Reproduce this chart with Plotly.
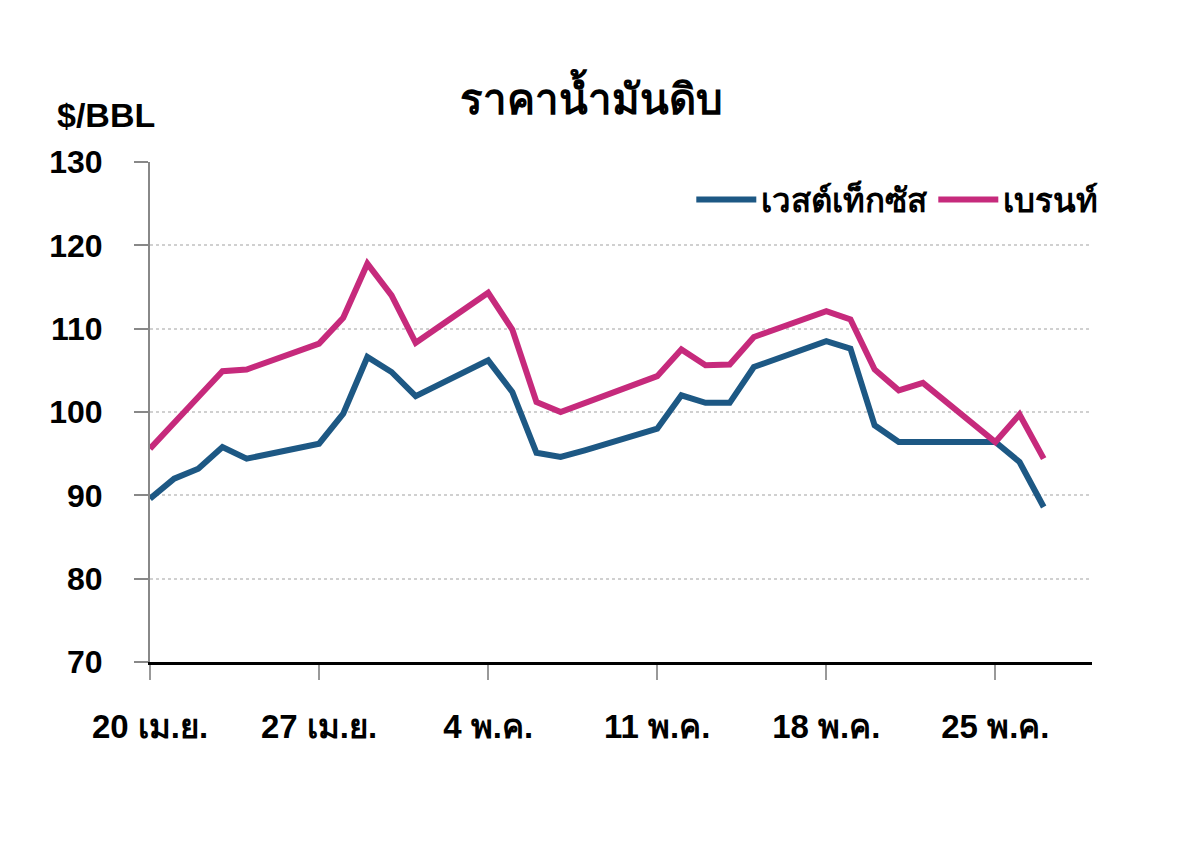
import plotly.graph_objects as go

# daily closes, weekdays only (weekends are just joined by a straight line)
dates = [
    '2009-04-20', '2009-04-21', '2009-04-22', '2009-04-23', '2009-04-24',
    '2009-04-27', '2009-04-28', '2009-04-29', '2009-04-30', '2009-05-01',
    '2009-05-04', '2009-05-05', '2009-05-06', '2009-05-07', '2009-05-08',
    '2009-05-11', '2009-05-12', '2009-05-13', '2009-05-14', '2009-05-15',
    '2009-05-18', '2009-05-19', '2009-05-20', '2009-05-21', '2009-05-22',
    '2009-05-25', '2009-05-26', '2009-05-27',
]
wti = [
    89.6, 92.0, 93.2, 95.8, 94.4,
    96.2, 99.8, 106.6, 104.8, 101.9,
    106.2, 102.4, 95.1, 94.6, 95.4,
    98.0, 102.0, 101.1, 101.1, 105.4,
    108.5, 107.6, 98.4, 96.4, 96.4,
    96.4, 94.0, 88.6,
]
brent = [
    95.6, 98.6, 101.8, 104.9, 105.1,
    108.2, 111.3, 117.8, 114.0, 108.3,
    114.3, 109.9, 101.2, 100.0, 101.1,
    104.3, 107.5, 105.6, 105.7, 109.0,
    112.1, 111.1, 105.1, 102.6, 103.5,
    96.4, 99.7, 94.4,
]

tick_dates = ['2009-04-20', '2009-04-27', '2009-05-04', '2009-05-11', '2009-05-18', '2009-05-25']
tick_text = ['20 เม.ย.', '27 เม.ย.', '4 พ.ค.', '11 พ.ค.', '18 พ.ค.', '25 พ.ค.']
y_ticks = [70, 80, 90, 100, 110, 120, 130]

BLUE = '#1d5884'
PINK = '#c62a7c'
FONT = 'Liberation Sans Narrow, Liberation Sans, Noto Sans, sans-serif'

fig = go.Figure()
fig.add_trace(go.Scatter(x=dates, y=wti, name='เวสต์เท็กซัส', mode='lines',
                         line=dict(color=BLUE, width=6)))
fig.add_trace(go.Scatter(x=dates, y=brent, name='เบรนท์', mode='lines',
                         line=dict(color=PINK, width=6)))

# page body adds 8px on the left/top, margins are set to land the plot at 150..1092 x 162..662
fig.update_layout(
    width=1200, height=849,
    margin=dict(l=142, r=116, t=154, b=195),
    plot_bgcolor='white', paper_bgcolor='white',
    font=dict(family=FONT, size=26, color='black'),
    showlegend=True,
    legend=dict(orientation='h', x=1.012, xanchor='right', y=0.925, yanchor='middle',
                font=dict(size=33, family=FONT, weight='bold'),
                itemwidth=60, tracegroupgap=0, bgcolor='rgba(0,0,0,0)'),
    annotations=[
        dict(text='<b>ราคาน้ำมันดิบ</b>', xref='paper', yref='paper', x=0.469, y=1.134,
             xanchor='center', yanchor='middle', showarrow=False,
             font=dict(size=42, family=FONT)),
        dict(text='<b>$/BBL</b>', xref='paper', yref='paper', x=-0.101, y=1.094,
             xanchor='left', yanchor='middle', showarrow=False,
             font=dict(size=34, family=FONT)),
    ],
)

fig.update_xaxes(
    type='date', range=['2009-04-20', '2009-05-29'],
    tickvals=tick_dates, ticktext=tick_text,
    tickfont=dict(size=33, family=FONT, weight='bold'),
    showline=True, linecolor='black', linewidth=3,
    ticks='outside', ticklen=15, tickwidth=2, tickcolor='#999999',
    ticklabelstandoff=18, showgrid=False, zeroline=False,
)
fig.update_yaxes(
    range=[70, 130], tickvals=y_ticks,
    tickfont=dict(size=32, family=FONT, weight='bold'),
    showline=True, linecolor='#888888', linewidth=2,
    ticks='outside', ticklen=14, tickwidth=2, tickcolor='#888888',
    ticklabelstandoff=25,
    showgrid=True, gridcolor='#d0d0d0', griddash='dot', gridwidth=1.5,
    zeroline=False,
)

fig.write_html('out.html')
